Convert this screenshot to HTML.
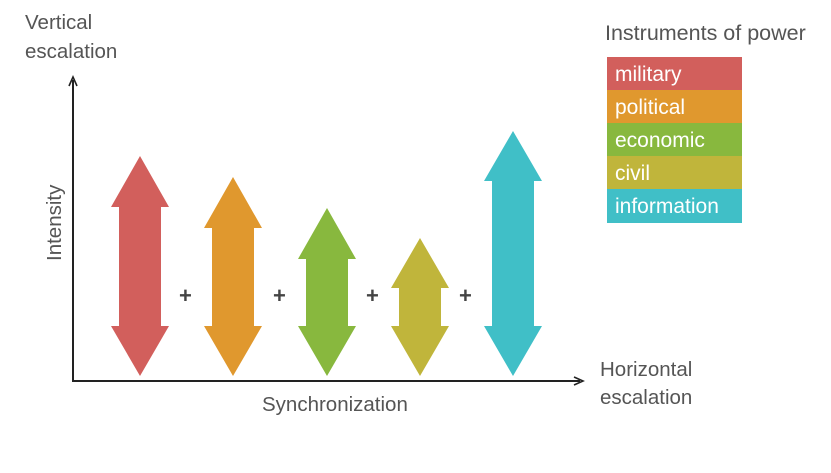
<!DOCTYPE html>
<html><head><style>
body{margin:0;background:#fff;}
svg text{font-family:"Liberation Sans",sans-serif;fill:#555;}
</style></head><body>
<svg width="831" height="468" viewBox="0 0 831 468" xmlns="http://www.w3.org/2000/svg">
<text x="25" y="29" font-size="20.5">Vertical</text>
<text x="25" y="58" font-size="20.5">escalation</text>
<text x="600" y="376" font-size="20.5">Horizontal</text>
<text x="600" y="404" font-size="20.5">escalation</text>
<text x="262" y="411" font-size="20.5">Synchronization</text>
<text transform="translate(61,261) rotate(-90)" font-size="20.5">Intensity</text>
<text x="605" y="40" font-size="21.5">Instruments of power</text>
<line x1="73" y1="381" x2="73" y2="80" stroke="#222" stroke-width="2"/>
<path d="M69,86 L73,77 L77,86" fill="none" stroke="#222" stroke-width="1.6"/>
<line x1="72" y1="381" x2="580" y2="381" stroke="#222" stroke-width="2"/>
<path d="M574,377 L583,381 L574,385" fill="none" stroke="#222" stroke-width="1.6"/>
<g>
<path d="M140,156 L169,207 L161,207 L161,326 L169,326 L140,376 L111,326 L119,326 L119,207 L111,207 Z" fill="#d25f5c"/>
<path d="M233,177 L262,228 L254,228 L254,326 L262,326 L233,376 L204,326 L212,326 L212,228 L204,228 Z" fill="#e0982e"/>
<path d="M327,208 L356,259 L348,259 L348,326 L356,326 L327,376 L298,326 L306,326 L306,259 L298,259 Z" fill="#88b83e"/>
<path d="M420,238 L449,288 L441,288 L441,326 L449,326 L420,376 L391,326 L399,326 L399,288 L391,288 Z" fill="#c0b53b"/>
<path d="M513,131 L542,181 L534,181 L534,326 L542,326 L513,376 L484,326 L492,326 L492,181 L484,181 Z" fill="#40bfc7"/>
</g>
<g font-size="22" font-weight="bold">
<text x="179" y="303" style="fill:#444">+</text><text x="273" y="303" style="fill:#444">+</text><text x="366" y="303" style="fill:#444">+</text><text x="459" y="303" style="fill:#444">+</text>
</g>
<rect x="607" y="57" width="135" height="33" fill="#d25f5c"/>
<rect x="607" y="90" width="135" height="33" fill="#e0982e"/>
<rect x="607" y="123" width="135" height="33" fill="#88b83e"/>
<rect x="607" y="156" width="135" height="33" fill="#c0b53b"/>
<rect x="607" y="189" width="135" height="34" fill="#40bfc7"/>
<g font-size="21">
<text x="615" y="81" style="fill:#fff">military</text>
<text x="615" y="114" style="fill:#fff">political</text>
<text x="615" y="147" style="fill:#fff">economic</text>
<text x="615" y="180" style="fill:#fff">civil</text>
<text x="615" y="213" style="fill:#fff">information</text>
</g>
</svg>
</body></html>
